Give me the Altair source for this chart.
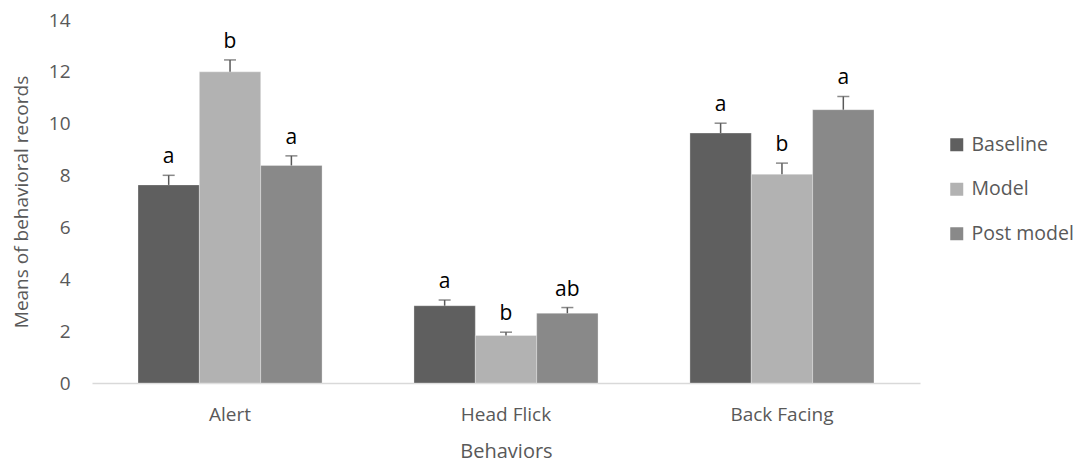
import altair as alt
import pandas as pd

behaviors = ["Alert", "Head Flick", "Back Facing"]
phases = ["Baseline", "Model", "Post model"]
baseline = [7.64, 2.98, 9.64]
model = [12.0, 1.83, 8.05]
post_model = [8.39, 2.69, 10.54]
se_baseline = [0.37, 0.22, 0.38]
se_model = [0.46, 0.13, 0.43]
se_post = [0.37, 0.22, 0.51]
let_baseline = ["a", "a", "a"]
let_model = ["b", "b", "b"]
let_post = ["a", "ab", "a"]
colors = ["#5f5f5f", "#b2b2b2", "#898989"]

rows = []
for vals, ses, lets, ph in [(baseline, se_baseline, let_baseline, "Baseline"),
                            (model, se_model, let_model, "Model"),
                            (post_model, se_post, let_post, "Post model")]:
    for b, v, s, l in zip(behaviors, vals, ses, lets):
        rows.append({"Behavior": b, "Phase": ph, "mean": v, "top": v + s, "letter": l})
df = pd.DataFrame(rows)

FONT = "Open Sans"
GREY = "#595959"

x = alt.X("Behavior:N", sort=behaviors, title="Behaviors",
          scale=alt.Scale(paddingInner=0.333, paddingOuter=0.1667),
          axis=alt.Axis(labelAngle=0, labelFontSize=19, labelColor=GREY, labelFont=FONT,
                        titleFontSize=20, titleColor=GREY, titleFont=FONT, titleFontWeight="normal",
                        ticks=False, domainColor="#d9d9d9", domainWidth=1.5,
                        labelPadding=22, titlePadding=17))
xo = alt.XOffset("Phase:N", sort=phases, scale=alt.Scale(paddingInner=0, paddingOuter=0))

base = alt.Chart(df)

bars = base.mark_bar(stroke="#ffffff", strokeWidth=0.5, strokeOpacity=0.6).encode(
    x=x, xOffset=xo,
    y=alt.Y("mean:Q", title="Means of behavioral records",
            scale=alt.Scale(domain=[0, 14], nice=False),
            axis=alt.Axis(values=[0, 2, 4, 6, 8, 10, 12, 14], grid=False, ticks=False, domain=False,
                          labelFontSize=19, labelColor=GREY, labelFont=FONT, labelPadding=22,
                          titleFontSize=19, titleColor=GREY, titleFont=FONT,
                          titleFontWeight="normal", titlePadding=17)),
    color=alt.Color("Phase:N", sort=phases, scale=alt.Scale(domain=phases, range=colors),
                    legend=alt.Legend(title=None, orient="none", legendX=855, legendY=115,
                                      symbolType="square", symbolSize=169, symbolStrokeWidth=0,
                                      labelFontSize=19.5, labelColor=GREY, labelFont=FONT,
                                      labelLimit=200,
                                      rowPadding=23.5, symbolOffset=0, labelOffset=5)),
)

rules = base.mark_rule(color=GREY, strokeWidth=1.5).encode(
    x=x, xOffset=xo, y="mean:Q", y2="top:Q")

caps = base.mark_tick(color=GREY, thickness=1.5, size=12, orient="horizontal").encode(
    x=x, xOffset=xo, y="top:Q")

texts = base.mark_text(fontSize=21, font=FONT, color="#000000", dy=-12, baseline="alphabetic").encode(
    x=x, xOffset=xo, y="top:Q", text="letter:N")

chart = alt.layer(bars, rules, caps, texts).properties(
    width=828, height=363,
    autosize=alt.AutoSizeParams(type="none"),
    padding={"left": 84, "top": 12, "right": 160, "bottom": 80},
).configure(background="#ffffff").configure_view(stroke=None)

chart.save("out.html", embed_options={"renderer": "svg", "actions": False})
